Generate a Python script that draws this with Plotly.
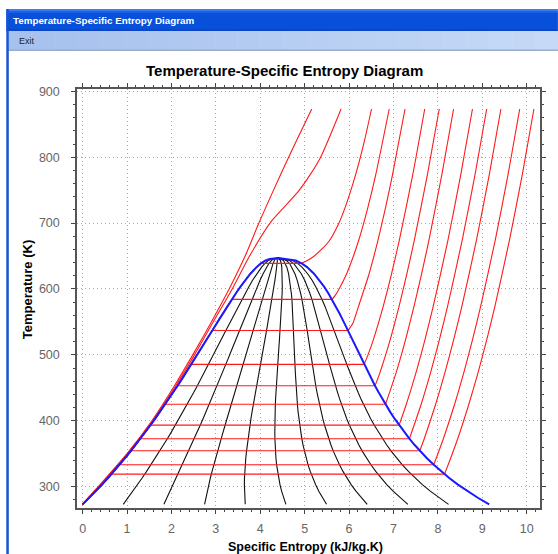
import plotly.graph_objects as go

# ---------------- data ----------------
# saturation dome: temperature (K), sat. liquid entropy, sat. vapour entropy (kJ/kg.K)
sat_T = [273.16, 283.15, 293.15, 303.15, 313.15, 323.15, 333.15, 343.15, 353.15, 363.15,
         373.15, 383.15, 393.15, 403.15, 413.15, 423.15, 433.15, 443.15, 453.15, 463.15,
         473.15, 483.15, 493.15, 503.15, 513.15, 523.15, 533.15, 543.15, 553.15, 563.15,
         573.15, 583.15, 593.15, 603.15, 613.15, 623.15, 633.15, 638.15, 643.15, 645.5, 647.1]
sat_sf = [0.000, 0.151, 0.297, 0.437, 0.572, 0.704, 0.831, 0.955, 1.076, 1.193,
          1.307, 1.419, 1.528, 1.635, 1.739, 1.842, 1.943, 2.042, 2.139, 2.236,
          2.331, 2.425, 2.518, 2.610, 2.702, 2.794, 2.885, 2.977, 3.069, 3.161,
          3.255, 3.351, 3.449, 3.552, 3.660, 3.778, 3.917, 4.001, 4.111, 4.210, 4.407]
sat_sg = [9.156, 8.900, 8.666, 8.452, 8.256, 8.075, 7.908, 7.754, 7.611, 7.478,
          7.354, 7.238, 7.129, 7.026, 6.929, 6.837, 6.749, 6.665, 6.584, 6.506,
          6.430, 6.356, 6.284, 6.213, 6.142, 6.072, 6.002, 5.930, 5.858, 5.783,
          5.706, 5.624, 5.537, 5.442, 5.336, 5.211, 5.054, 4.950, 4.801, 4.620, 4.407]

qualities = [0.1, 0.2, 0.3, 0.4, 0.5, 0.6, 0.7, 0.8, 0.9]

# subcritical isobars: saturation temperature and entropies
iso_P = [0.01, 0.02, 0.05, 0.1, 0.2, 0.5, 1, 2, 5, 10, 20]          # MPa
iso_Tsat = [318.96, 333.21, 354.47, 372.76, 393.36, 424.98, 453.03, 485.53, 537.09, 584.15, 638.90]
iso_sf = [0.649, 0.832, 1.091, 1.303, 1.530, 1.860, 2.138, 2.447, 2.921, 3.360, 4.015]
iso_sg = [8.149, 7.907, 7.593, 7.359, 7.127, 6.821, 6.585, 6.339, 5.974, 5.616, 4.931]
# superheated branches (T in K, s in kJ/kg.K)
sup_T = [
    [323.15, 373.15, 423.15, 473.15, 523.15, 573.15, 673.15, 773.15, 873.15],
    [373.15, 423.15, 473.15, 523.15, 573.15, 673.15, 773.15, 873.15],
    [373.15, 423.15, 473.15, 523.15, 573.15, 673.15, 773.15, 873.15],
    [423.15, 473.15, 523.15, 573.15, 673.15, 773.15, 873.15],
    [423.15, 473.15, 523.15, 573.15, 673.15, 773.15, 873.15],
    [473.15, 523.15, 573.15, 623.15, 673.15, 773.15, 873.15],
    [473.15, 523.15, 573.15, 623.15, 673.15, 773.15, 873.15],
    [498.15, 523.15, 573.15, 623.15, 673.15, 773.15, 873.15],
    [548.15, 573.15, 623.15, 673.15, 723.15, 773.15, 873.15],
    [590.00, 598.15, 623.15, 673.15, 723.15, 773.15, 873.15],
    [643.15, 648.15, 660.00, 673.15, 698.15, 723.15, 773.15, 823.15, 873.15],
]
sup_s = [
    [8.174, 8.449, 8.689, 8.905, 9.102, 9.283, 9.609, 9.900, 10.163],
    [8.126, 8.368, 8.584, 8.781, 8.962, 9.289, 9.579, 9.843],
    [7.695, 7.941, 8.159, 8.357, 8.539, 8.866, 9.157, 9.420],
    [7.615, 7.836, 8.035, 8.217, 8.545, 8.836, 9.100],
    [7.281, 7.508, 7.710, 7.894, 8.224, 8.515, 8.779],
    [7.061, 7.273, 7.461, 7.635, 7.796, 8.089, 8.354],
    [6.696, 6.927, 7.125, 7.303, 7.467, 7.764, 8.031],
    [6.416, 6.548, 6.768, 6.958, 7.129, 7.434, 7.704],
    [6.087, 6.211, 6.452, 6.648, 6.821, 6.978, 7.261],
    [5.685, 5.760, 5.946, 6.214, 6.422, 6.600, 6.905],
    [5.060, 5.180, 5.380, 5.556, 5.760, 5.909, 6.147, 6.341, 6.506],
]
# supercritical isobars (50 and 100 MPa)
super_T = [
    [273.16, 300, 350, 400, 450, 500, 550, 600, 650, 700, 725, 750, 775, 800, 873.15],
    [273.16, 300, 350, 400, 450, 500, 550, 600, 650, 700, 750, 800, 873.15],
]
super_s = [
    [-0.005, 0.37, 1.02, 1.58, 2.07, 2.52, 2.94, 3.37, 3.76, 4.22, 4.55, 4.88, 5.14, 5.36, 5.82],
    [-0.010, 0.35, 1.00, 1.56, 2.04, 2.48, 2.90, 3.30, 3.66, 3.97, 4.30, 4.64, 5.16],
]

x_ticks = [0, 1, 2, 3, 4, 5, 6, 7, 8, 9, 10]
y_ticks = [300, 400, 500, 600, 700, 800, 900]

# ---------------- geometry helpers ----------------
W, H = 558, 554
ML, MR, MT, MB = 77, 16, 89, 46
PW, PH = W - ML - MR, H - MT - MB


def px(x):
    return (x - ML) / PW


def py(y):
    return (H - MB - y) / PH


fig = go.Figure()
RED = "#ff1a1a"

# quality lines (black)
for q in qualities:
    xs = [sf + q * (sg - sf) for sf, sg in zip(sat_sf, sat_sg)]
    fig.add_trace(go.Scatter(x=xs, y=sat_T, mode="lines",
                             line=dict(color="#111111", width=1.1), hoverinfo="skip"))

# subcritical isobars (red): liquid branch + plateau (linear), superheated branch (smooth)
for i in range(len(iso_P)):
    lx = [s for s, t in zip(sat_sf, sat_T) if t < iso_Tsat[i]]
    ly = [t for t in sat_T if t < iso_Tsat[i]]
    fig.add_trace(go.Scatter(x=lx + [iso_sf[i], iso_sg[i]], y=ly + [iso_Tsat[i], iso_Tsat[i]],
                             mode="lines", line=dict(color=RED, width=1.1), hoverinfo="skip"))
    fig.add_trace(go.Scatter(x=[iso_sg[i]] + sup_s[i], y=[iso_Tsat[i]] + sup_T[i],
                             mode="lines", line_shape="spline",
                             line=dict(color=RED, width=1.1, smoothing=0.6), hoverinfo="skip"))
for ts, ss in zip(super_T, super_s):
    fig.add_trace(go.Scatter(x=ss, y=ts, mode="lines", line_shape="spline",
                             line=dict(color=RED, width=1.1, smoothing=0.8),
                             hoverinfo="skip"))

# saturation dome (blue)
fig.add_trace(go.Scatter(x=sat_sf + sat_sg[::-1], y=sat_T + sat_T[::-1], mode="lines",
                         line=dict(color="#1a1aff", width=2), hoverinfo="skip"))

# ---------------- window chrome ----------------
shapes = []


def rect(x0, y0, x1, y1, color):
    shapes.append(dict(type="rect", xref="paper", yref="paper",
                       x0=px(x0), x1=px(x1), y0=py(y1), y1=py(y0),
                       fillcolor=color, line=dict(width=0), layer="below"))


# title bar
rect(6, 9, W + 2, 11, "#3a7cf2")
rect(6, 11, W + 2, 13, "#1a60e6")
rect(6, 13, W + 2, 29, "#0850da")
rect(6, 29, W + 2, 31, "#0a46c6")
# menu bar with horizontal gradient
c0, c1 = (166, 193, 238), (198, 218, 247)
n = 24
for k in range(n):
    f = k / (n - 1)
    col = "rgb(%d,%d,%d)" % tuple(int(a + (b - a) * f) for a, b in zip(c0, c1))
    x0 = 8 + (W + 2 - 8) * k / n
    x1 = 8 + (W + 2 - 8) * (k + 1) / n + 0.5
    rect(x0, 31, x1, 50, col)
rect(8, 49.5, W + 2, 51, "#9aaecb")
# left window border
rect(6, 9, 8.5, H + 2, "#1453d6")

annotations = [
    dict(text="<b>Temperature-Specific Entropy Diagram</b>", x=px(11), y=py(20.5),
         xref="paper", yref="paper", xanchor="left", yanchor="middle", showarrow=False,
         font=dict(family="Liberation Sans", size=9.8, color="white")),
    dict(text="Exit", x=px(17), y=py(41), xref="paper", yref="paper",
         xanchor="left", yanchor="middle", showarrow=False,
         font=dict(family="Liberation Sans", size=9, color="#222222")),
    dict(text="<b>Temperature-Specific Entropy Diagram</b>", x=px(285), y=py(70),
         xref="paper", yref="paper", xanchor="center", yanchor="middle", showarrow=False,
         font=dict(family="Liberation Sans", size=15, color="black")),
    dict(text="<b>Specific Entropy (kJ/kg.K)</b>", x=px(306), y=py(547),
         xref="paper", yref="paper", xanchor="center", yanchor="middle", showarrow=False,
         font=dict(family="Liberation Sans", size=12.5, color="black")),
    dict(text="<b>Temperature (K)</b>", x=px(27), y=py(290), textangle=-90,
         xref="paper", yref="paper", xanchor="center", yanchor="middle", showarrow=False,
         font=dict(family="Liberation Sans", size=13, color="black")),
]

axis_common = dict(
    showgrid=True, gridcolor="#a8a8a8", griddash="1px,3px", gridwidth=1,
    showline=True, linecolor="#555555", linewidth=1.5, mirror="allticks",
    ticks="outside", ticklen=4, tickwidth=1.3, tickcolor="#444444",
    tickfont=dict(family="Liberation Sans", size=12.5, color="#666666"),
    zeroline=False, layer="below traces",
)

fig.update_layout(
    width=W, height=H, showlegend=False,
    margin=dict(l=ML, r=MR, t=MT, b=MB, pad=0),
    paper_bgcolor="white", plot_bgcolor="white",
    shapes=shapes, annotations=annotations,
    xaxis=dict(range=[-0.126, 10.30], tickvals=x_ticks, ticktext=[str(v) for v in x_ticks],
               minor=dict(dtick=0.2, tick0=0, ticks="outside", ticklen=2.5,
                          tickcolor="#444444", showgrid=False),
               ticklabelstandoff=4, **axis_common),
    yaxis=dict(range=[267.6, 903.5], tickvals=y_ticks, ticktext=[str(v) for v in y_ticks],
               minor=dict(dtick=20, tick0=0, ticks="outside", ticklen=2.5,
                          tickcolor="#444444", showgrid=False),
               ticklabelstandoff=9, **axis_common),
)

fig.write_html("out.html", config={"displayModeBar": False},
               post_script="document.body.style.margin='0';document.body.style.overflow='hidden';")
